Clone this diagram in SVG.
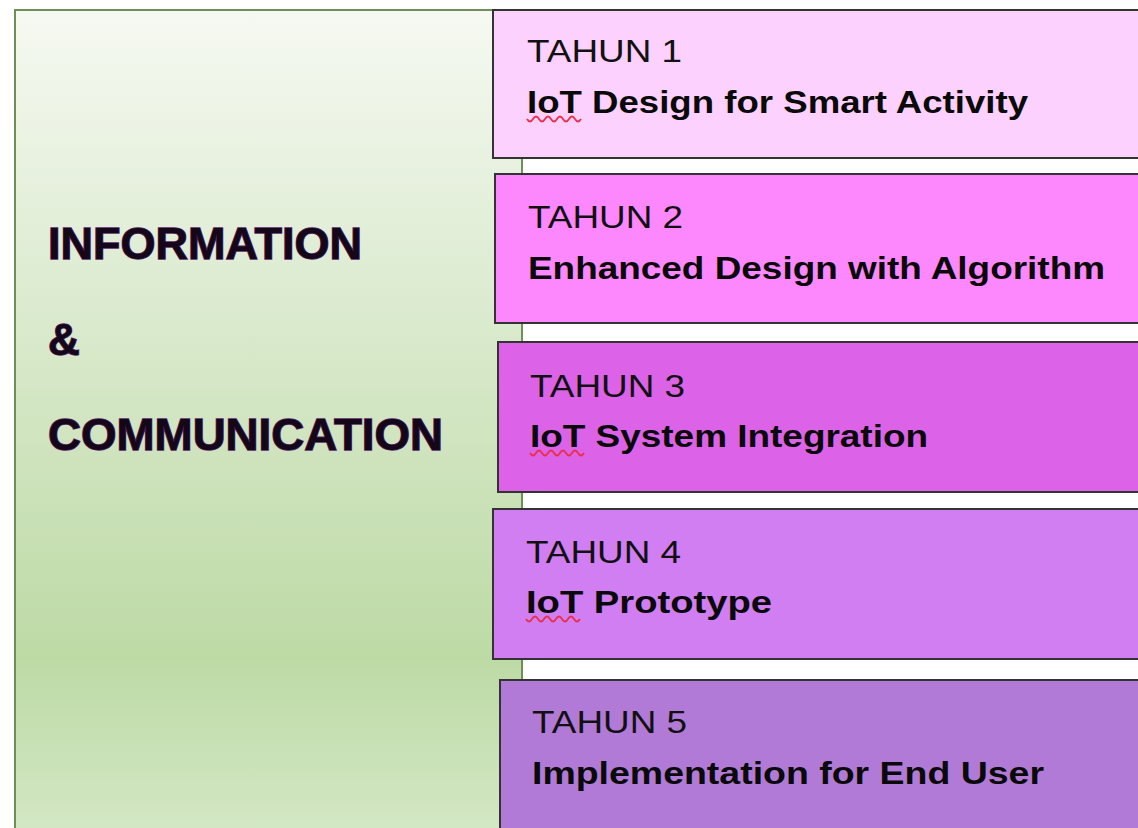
<svg xmlns="http://www.w3.org/2000/svg" width="1138" height="828" viewBox="0 0 1138 828">
<defs>
<linearGradient id="green" gradientUnits="userSpaceOnUse" x1="0" y1="10" x2="0" y2="840">
<stop offset="0" stop-color="#f6f9f2"/>
<stop offset="0.35" stop-color="#dcebd0"/>
<stop offset="0.78" stop-color="#bddaa5"/>
<stop offset="1" stop-color="#d4e8c6"/>
</linearGradient>
<style>
.t1{font-family:"Liberation Sans",Arial,sans-serif;font-size:32px;fill:#111111}
.t2{font-family:"Liberation Sans",Arial,sans-serif;font-size:32px;font-weight:bold;fill:#0a0a0a}
.big{font-family:"Liberation Sans",Arial,sans-serif;font-size:44px;font-weight:bold;fill:#140818;stroke:#5a2570;stroke-width:1.4;paint-order:stroke}
.squig{fill:none;stroke:#e8304a;stroke-width:1.8;stroke-linejoin:round}
</style>
</defs>
<rect x="0" y="0" width="1138" height="828" fill="#ffffff"/>
<g id="theme">
<rect x="15" y="10" width="507" height="830" fill="url(#green)" stroke="#6e8f58" stroke-width="2"/>
<text class="big" x="48" y="259" textLength="314" lengthAdjust="spacingAndGlyphs">INFORMATION</text>
<text class="big" x="48" y="355">&amp;</text>
<text class="big" x="48" y="450" textLength="395" lengthAdjust="spacingAndGlyphs">COMMUNICATION</text>
</g>
<g id="connectors"></g>
<g id="year1">
<rect x="493" y="10" width="660" height="148" fill="#fdd1fd" stroke="#333333" stroke-width="2"/>
<text class="t1" x="527" y="62" textLength="155" lengthAdjust="spacingAndGlyphs">TAHUN 1</text>
<text class="t2" x="527" y="113" textLength="501" lengthAdjust="spacingAndGlyphs">IoT Design for Smart Activity</text>
<path class="squig" d="M527 119 q3 5 6 0 q3 -5 6 0 q3 5 6 0 q3 -5 6 0 q3 5 6 0 q3 -5 6 0 q3 5 6 0 q3 -5 6 0 q3 5 6 0"/>
</g>
<g id="year2">
<rect x="495" y="174" width="660" height="149" fill="#fd88fd" stroke="#333333" stroke-width="2"/>
<text class="t1" x="528" y="228" textLength="155" lengthAdjust="spacingAndGlyphs">TAHUN 2</text>
<text class="t2" x="528" y="279" textLength="577" lengthAdjust="spacingAndGlyphs">Enhanced Design with Algorithm</text>
</g>
<g id="year3">
<rect x="498" y="342" width="660" height="150" fill="#dc62e8" stroke="#333333" stroke-width="2"/>
<text class="t1" x="530" y="397" textLength="155" lengthAdjust="spacingAndGlyphs">TAHUN 3</text>
<text class="t2" x="530" y="447" textLength="398" lengthAdjust="spacingAndGlyphs">IoT System Integration</text>
<path class="squig" d="M530 453 q3 5 6 0 q3 -5 6 0 q3 5 6 0 q3 -5 6 0 q3 5 6 0 q3 -5 6 0 q3 5 6 0 q3 -5 6 0 q3 5 6 0"/>
</g>
<g id="year4">
<rect x="493" y="509" width="660" height="150" fill="#d07ef2" stroke="#333333" stroke-width="2"/>
<text class="t1" x="526" y="563" textLength="155" lengthAdjust="spacingAndGlyphs">TAHUN 4</text>
<text class="t2" x="526" y="613" textLength="246" lengthAdjust="spacingAndGlyphs">IoT Prototype</text>
<path class="squig" d="M526 619 q3 5 6 0 q3 -5 6 0 q3 5 6 0 q3 -5 6 0 q3 5 6 0 q3 -5 6 0 q3 5 6 0 q3 -5 6 0 q3 5 6 0"/>
</g>
<g id="year5">
<rect x="500" y="680" width="660" height="160" fill="#b07ad6" stroke="#333333" stroke-width="2"/>
<text class="t1" x="532" y="733" textLength="155" lengthAdjust="spacingAndGlyphs">TAHUN 5</text>
<text class="t2" x="532" y="784" textLength="512" lengthAdjust="spacingAndGlyphs">Implementation for End User</text>
</g>
</svg>
